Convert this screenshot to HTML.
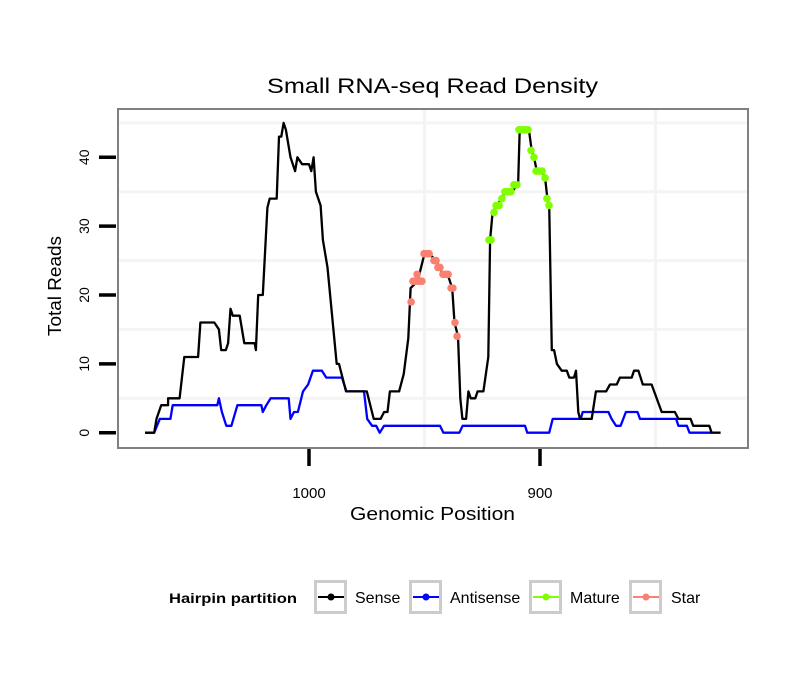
<!DOCTYPE html>
<html><head><meta charset="utf-8">
<style>
body{margin:0;background:#fff;}
svg text{font-family:"Liberation Sans",sans-serif;}
</style></head>
<body>
<svg id="chart" width="810" height="690" viewBox="0 0 810 690" xmlns="http://www.w3.org/2000/svg">
<rect x="0" y="0" width="810" height="690" fill="#fff"/>
<text x="267" y="93" font-size="21" textLength="331" lengthAdjust="spacingAndGlyphs" fill="#000">Small RNA-seq Read Density</text>
<g id="grid"></g>
<g id="series"></g>
<rect x="118" y="109" width="630" height="339" fill="none" stroke="#808080" stroke-width="2"/>
<g id="axes"></g>
<text x="350" y="520" font-size="18" textLength="165" lengthAdjust="spacingAndGlyphs">Genomic Position</text>
<text transform="translate(61,336) rotate(-90)" font-size="18" textLength="100" lengthAdjust="spacingAndGlyphs">Total Reads</text>
<g id="legend">
<text x="169" y="603" font-size="14" font-weight="bold" textLength="128" lengthAdjust="spacingAndGlyphs">Hairpin partition</text>
</g>
</svg>
<script>
const yTicks=[0,10,20,30,40];
const xTicks=[1000,900];
const xMinorGrid=[950,850];
const yMinorGrid=[5,15,25,35,45];
const seriesNames=["Sense","Antisense","Mature","Star"];
const seriesColors=["#000000","#0000ff","#7fff00","#fa8072"];
const sensePos=[1071,1067,1066,1064,1061,1061,1056,1054,1048,1047,1041,1039,1038,1036,1035,1034,1033,1030,1028,1023.5,1023,1022,1020,1018,1017,1014,1013,1012,1011,1010,1008,1006,1005,1003,1000,999,998,997,995,994,992,988,987,984,975,972,969,967.5,966,965,961,959,957,956,953,950,948,945,942,940,938,937,935.5,934.5,933.6,932,931,930,928,927,924.5,922.4,921.6,920.5,918.7,916.6,915,912,910,909.5,908.8,904.8,903.6,902.6,901.4,899.3,897.8,896.8,896,894.9,893.9,892.7,890.6,888.4,887.3,885.3,884.4,883.4,882.7,877.6,875.8,871.4,869.7,866.8,865.4,860.3,859.3,857.4,855.5,851.7,847.3,841.6,840.1,834.8,833.7,826.7,825.7,821.8];
const senseVal=[0,0,2,4,4,5,5,11,11,16,16,15,12,12,13,18,17,17,13,13,12,20,20,32.7,34,34,43,43,45,44,40,38,40,39,39,38,40,35,33,28,24,10,10,6,6,2,2,3,3,6,6,8.5,13.7,21,22,26,26,25,23,23,21,16,14,5,2,2,6,5,5,6,6,11,28,32,33,34,35,35,36,36,44,44,41,40,38,38,37,34,33,12,12,10,9,9,8,8,9,3,2,2,6,6,7,7,8,8,9,9,7,7,3,3,2,2,1,1,0,0];
const antiPos=[1071,1067,1064.6,1060,1059,1039.7,1039,1037.7,1035.8,1033.6,1031,1020.6,1020,1018.5,1016.6,1008.8,1008,1006.5,1004.8,1002.6,1000.4,998.3,994.4,992.5,985.7,983.8,976.2,974.8,972.7,970.9,969.4,967.5,943.3,941.8,934.9,933.5,906.5,905.5,896,894.5,882.4,881.5,870.4,869,867.1,865.1,862.8,857.8,856.7,841.1,840.1,836.4,835.3,825.7];
const antiVal=[0,0,2,2,4,4,5,3,1,1,4,4,3,4,5,5,2,3,3,6,7,9,9,8,8,6,6,2,1,1,0,1,1,0,0,1,1,0,0,2,2,3,3,2,1,1,3,3,2,2,1,1,0,0];
const maturePos=[922.1,921.2,919.9,919,917.7,916.5,915.2,913.9,912.6,911.3,910,909.1,907.8,906.5,905.2,903.9,902.6,901.7,900.4,899.1,897.8,897,896.1];
const matureVal=[28,28,32,33,33,34,35,35,35,36,36,44,44,44,44,41,40,38,38,38,37,34,33];
const starPos=[955.8,955,954.1,953.2,952.8,951.9,951.1,950.2,948.9,948,945.9,945,944.2,943.3,942,940.7,939.8,938.5,937.7,936.8,935.9];
const starVal=[19,22,22,23,22,22,22,26,26,26,25,25,24,24,23,23,23,21,21,16,14];

const NS="http://www.w3.org/2000/svg";
function X(p){return 309+(1000-p)*2.31;}
function Y(v){return 432.7-v*6.885;}
function mk(tag,attrs,parent){const e=document.createElementNS(NS,tag);for(const k in attrs)e.setAttribute(k,attrs[k]);parent.appendChild(e);return e;}
const grid=document.getElementById('grid'),ser=document.getElementById('series'),axes=document.getElementById('axes'),leg=document.getElementById('legend');
yMinorGrid.forEach(v=>{const l=mk('line',{x1:119,x2:747,y1:Y(v),y2:Y(v),stroke:'#f4f4f4','stroke-width':3},grid);

});
xMinorGrid.forEach(p=>{const l=mk('line',{x1:X(p),x2:X(p),y1:110,y2:447,stroke:'#f4f4f4','stroke-width':3},grid);

});
function line(pos,val,color,name){const d=pos.map((p,i)=>(i?'L':'M')+X(p).toFixed(1)+','+Y(val[i]).toFixed(1)).join('');
const e=mk('path',{d:d,fill:'none',stroke:color,'stroke-width':2.3,'stroke-linejoin':'round'},ser);

}
line(antiPos,antiVal,seriesColors[1],'antisense-line');
line(sensePos,senseVal,seriesColors[0],'sense-line');
function pts(pos,val,color,name){pos.forEach((p,i)=>{const c=mk('circle',{cx:X(p),cy:Y(val[i]),r:3.8,fill:color},ser);

});}
pts(starPos,starVal,seriesColors[3],'star-point');
pts(maturePos,matureVal,seriesColors[2],'mature-point');
yTicks.forEach(v=>{const t=mk('line',{x1:99,x2:116,y1:Y(v),y2:Y(v),stroke:'#000','stroke-width':3.5},axes);


const tx=mk('text',{transform:`translate(89,${Y(v)}) rotate(-90)`,'text-anchor':'middle','font-size':14},axes);tx.textContent=v;

});
xTicks.forEach(p=>{const t=mk('line',{x1:X(p),x2:X(p),y1:449,y2:466,stroke:'#000','stroke-width':3.5},axes);


const tx=mk('text',{x:X(p),y:498,'text-anchor':'middle','font-size':15},axes);tx.textContent=p;

});
const keyX=[314,409,529,629],labX=[355,450,570,671];
seriesNames.forEach((n,i)=>{const g=mk('g',{},leg);


mk('rect',{x:keyX[i]+1.5,y:581.5,width:30,height:31,fill:'#fff',stroke:'#cccccc','stroke-width':3},g);
mk('line',{x1:keyX[i]+4,x2:keyX[i]+30,y1:597,y2:597,stroke:seriesColors[i],'stroke-width':2},g);
mk('circle',{cx:keyX[i]+17,cy:597,r:3.5,fill:seriesColors[i]},g);
const t=mk('text',{x:labX[i],y:603,'font-size':16},g);t.textContent=n;});
</script>
</body></html>
